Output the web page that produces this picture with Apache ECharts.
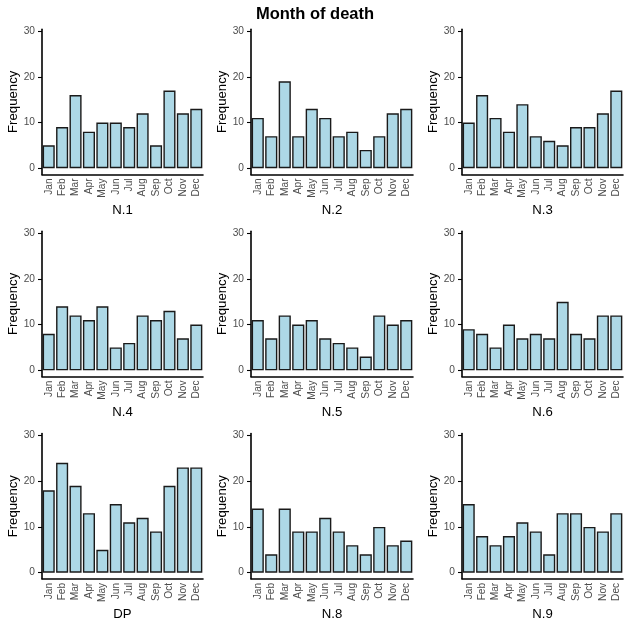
<!DOCTYPE html>
<html>
<head>
<meta charset="utf-8">
<script src="https://cdn.jsdelivr.net/npm/echarts@6/dist/echarts.min.js"></script>
<style>
html,body{margin:0;padding:0;background:#fff;}
#chart{width:630px;height:630px;}
</style>
</head>
<body>
<div id="chart"></div>
<script>
const months = ["Jan","Feb","Mar","Apr","May","Jun","Jul","Aug","Sep","Oct","Nov","Dec"];
const panelNames = ["N.1","N.2","N.3","N.4","N.5","N.6","DP","N.8","N.9"];
const yTicks = [0, 10, 20, 30];

const n1 = [5, 9, 16, 8, 10, 10, 9, 12, 5, 17, 12, 13];
const n2 = [11, 7, 19, 7, 13, 11, 7, 8, 4, 7, 12, 13];
const n3 = [10, 16, 11, 8, 14, 7, 6, 5, 9, 9, 12, 17];
const n4 = [8, 14, 12, 11, 14, 5, 6, 12, 11, 13, 7, 10];
const n5 = [11, 7, 12, 10, 11, 7, 6, 5, 3, 12, 10, 11];
const n6 = [9, 8, 5, 10, 7, 8, 7, 15, 8, 7, 12, 12];
const dp = [18, 24, 19, 13, 5, 15, 11, 12, 9, 19, 23, 23];
const n8 = [14, 4, 14, 9, 9, 12, 9, 6, 4, 10, 6, 7];
const n9 = [15, 8, 6, 8, 11, 9, 4, 13, 13, 10, 9, 13];

const panelData = [n1, n2, n3, n4, n5, n6, dp, n8, n9];

const FONT = "Liberation Sans, Arial, Helvetica, sans-serif";
const colLeft = [42, 251, 462];
const colWidth = [161, 162, 161];
const rowTop = [29.2, 231.3, 433.6];
const rowHeight = 145.2;

const grids = [], xAxes = [], yAxes = [], series = [];
panelData.forEach((vals, i) => {
  const r = Math.floor(i / 3), c = i % 3;
  grids.push({left: colLeft[c], top: rowTop[r], width: colWidth[c], height: rowHeight, containLabel: false});
  xAxes.push({
    type: 'category', gridIndex: i, data: months,
    name: panelNames[i], nameLocation: 'middle', nameGap: 29,
    nameTextStyle: {fontFamily: FONT, fontSize: 13.2, color: '#000'},
    axisLine: {onZero: false, lineStyle: {color: '#000', width: 1.6}},
    axisTick: {alignWithLabel: true, length: 3.5, lineStyle: {color: '#000', width: 1.1}},
    axisLabel: {rotate: 90, interval: 0, margin: 4, fontFamily: FONT, fontSize: 10.2, color: '#4D4D4D'},
    splitLine: {show: false}
  });
  yAxes.push({
    type: 'value', gridIndex: i, min: -1.35, max: 30.4,
    name: 'Frequency', nameLocation: 'middle', nameGap: 22, nameRotate: 90,
    nameTextStyle: {fontFamily: FONT, fontSize: 13.2, color: '#000'},
    axisLine: {show: true, lineStyle: {color: '#000', width: 1.6}},
    axisTick: {show: true, length: 4, customValues: yTicks, lineStyle: {color: '#000', width: 1.1}},
    axisLabel: {customValues: yTicks, margin: 7, fontFamily: FONT, fontSize: 10.2, color: '#4D4D4D'},
    splitLine: {show: false}
  });
  series.push({
    type: 'bar', xAxisIndex: i, yAxisIndex: i, data: vals,
    barCategoryGap: '10%',
    itemStyle: {color: '#ADD8E6', borderColor: '#1a1a1a', borderWidth: 1.4},
    silent: true
  });
});

const chart = echarts.init(document.getElementById('chart'), null, {renderer: 'canvas'});
chart.setOption({
  animation: false,
  backgroundColor: '#fff',
  title: {text: 'Month of death', left: 'center', top: 1,
    textStyle: {fontFamily: FONT, fontSize: 16.5, fontWeight: 'bold', color: '#000'}},
  grid: grids, xAxis: xAxes, yAxis: yAxes, series: series
});
</script>
</body>
</html>
